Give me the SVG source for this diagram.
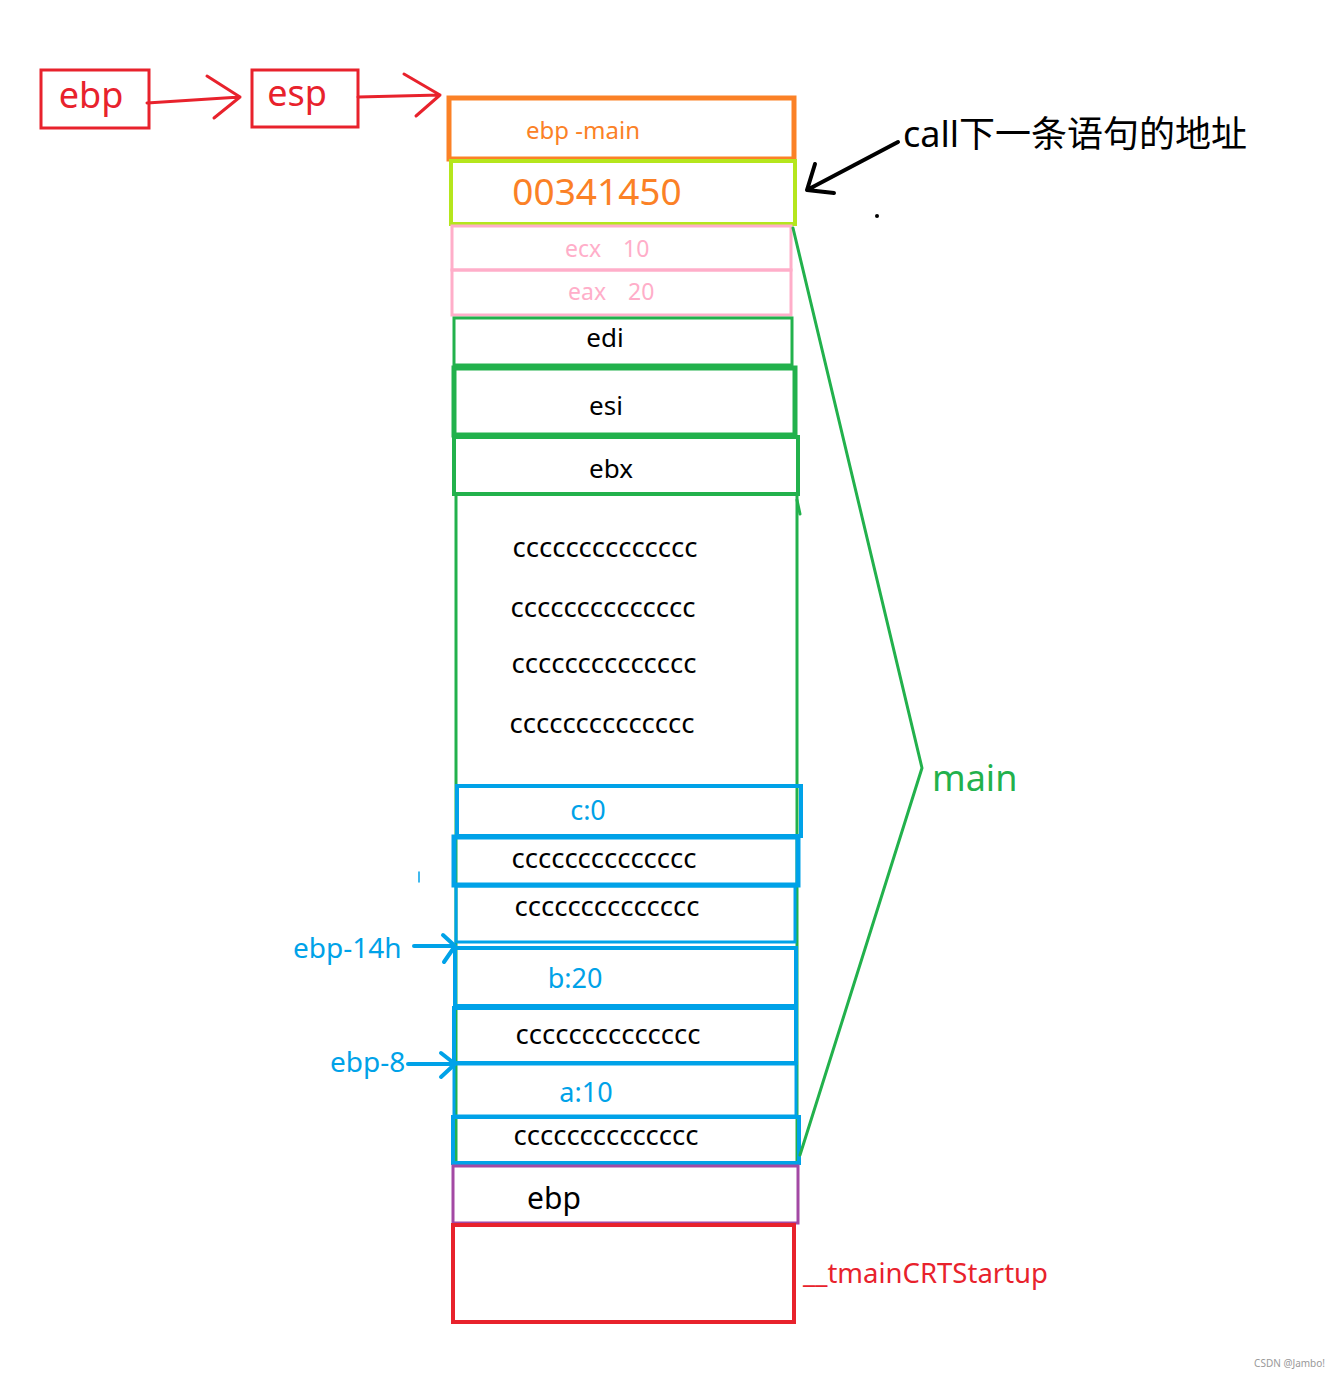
<svg xmlns="http://www.w3.org/2000/svg" width="1339" height="1377" viewBox="0 0 1339 1377">
<style>
text{font-family:"Noto Sans","Noto Sans CJK SC",sans-serif}
.box{fill:none}
.red{stroke:#e8222c}
.org{stroke:#fb8126}
.lime{stroke:#b5e61d}
.pink{stroke:#ffaec9}
.grn{stroke:#22b14c}
.blu{stroke:#00a2e8}
.pur{stroke:#a349a4}
.tb{fill:#000}
.tblu{fill:#00a2e8}
.cc{font-size:27.5px;fill:#000;text-anchor:middle}
.mid{text-anchor:middle}
</style>
<rect width="1339" height="1377" fill="#fff"/>
<g id="ebp-reg">
<rect class="box red" x="41" y="70" width="108" height="58" stroke-width="3"/>
<text x="91" y="108" font-size="36" fill="#e8222c" class="mid">ebp</text>
</g>
<g id="esp-reg">
<rect class="box red" x="252" y="70" width="106" height="57" stroke-width="3"/>
<text x="297" y="106" font-size="36" fill="#e8222c" class="mid">esp</text>
</g>
<g id="slot-ebp-main">
<rect class="box org" x="449" y="98" width="345" height="61" stroke-width="5"/>
<text x="583" y="139" font-size="24" fill="#fb8126" class="mid">ebp -main</text>
</g>
<g id="slot-ret">
<rect class="box lime" x="451" y="161" width="344" height="63" stroke-width="4"/>
<text x="597" y="205" font-size="37" fill="#fb8126" class="mid">00341450</text>
</g>
<g id="slot-ecx">
<rect class="box pink" x="452" y="226" width="339" height="44" stroke-width="3"/>
<text x="565" y="257" font-size="23" fill="#ffaec9">ecx</text>
<text x="623" y="257" font-size="23" fill="#ffaec9">10</text>
</g>
<g id="slot-eax">
<rect class="box pink" x="452" y="270" width="339" height="45" stroke-width="3"/>
<text x="568" y="300" font-size="23" fill="#ffaec9">eax</text>
<text x="628" y="300" font-size="23" fill="#ffaec9">20</text>
</g>
<g id="slot-edi">
<rect class="box grn" x="454" y="318" width="338" height="47" stroke-width="3"/>
<text x="605" y="347" font-size="26" class="tb mid">edi</text>
</g>
<g id="slot-esi">
<rect class="box grn" x="454" y="368" width="341" height="67" stroke-width="5"/>
<text x="606" y="415" font-size="26" class="tb mid">esi</text>
</g>
<g id="slot-ebx">
<rect class="box grn" x="454" y="437" width="344" height="57" stroke-width="4"/>
<text x="611" y="478" font-size="26" class="tb mid">ebx</text>
</g>
<g id="main-frame">
<rect class="box grn" x="456" y="494" width="341" height="671" stroke-width="3"/>
<text x="605" y="557" class="cc">cccccccccccccc</text>
<text x="603" y="617" class="cc">cccccccccccccc</text>
<text x="604" y="673" class="cc">cccccccccccccc</text>
<text x="602" y="733" class="cc">cccccccccccccc</text>
</g>
<g id="slot-c">
<rect class="box blu" x="457" y="786" width="344" height="50" stroke-width="4"/>
<text x="588" y="820" font-size="27" class="tblu mid">c:0</text>
</g>
<g id="slot-cc1">
<rect class="box blu" x="454" y="837" width="344" height="48" stroke-width="5"/>
<text x="604" y="868" class="cc">cccccccccccccc</text>
</g>
<g id="slot-cc2">
<rect class="box blu" x="456" y="886" width="339" height="56" stroke-width="3"/>
<text x="607" y="916" class="cc">cccccccccccccc</text>
</g>
<g id="slot-b">
<rect class="box blu" x="455" y="948" width="341" height="58" stroke-width="4"/>
<text x="575" y="988" font-size="27" class="tblu mid">b:20</text>
</g>
<g id="slot-cc3">
<rect class="box blu" x="454" y="1008" width="342" height="55" stroke-width="4"/>
<text x="608" y="1044" class="cc">cccccccccccccc</text>
</g>
<g id="slot-a">
<rect class="box blu" x="454" y="1064" width="342" height="52" stroke-width="3"/>
<text x="586" y="1102" font-size="27" class="tblu mid">a:10</text>
</g>
<g id="slot-cc4">
<rect class="box blu" x="453" y="1117" width="346" height="46" stroke-width="4"/>
<text x="606" y="1145" class="cc">cccccccccccccc</text>
</g>
<g id="slot-ebp-old">
<rect class="box pur" x="453" y="1166" width="345" height="57" stroke-width="3"/>
<text x="554" y="1209" font-size="30" class="tb mid">ebp</text>
</g>
<g id="frame-crt">
<rect class="box red" x="453" y="1225" width="341" height="97" stroke-width="4"/>
<text x="803" y="1283" font-size="27.5" fill="#e8222c">__tmainCRTStartup</text>
</g>
<g id="label-call">
<text x="903" y="147" font-size="36" class="tb">call下一条语句的地址</text>
</g>
<g id="label-main">
<text x="932" y="791" font-size="36" fill="#22b14c">main</text>
</g>
<g id="label-ebp14h">
<text x="293" y="958" font-size="28" class="tblu">ebp-14h</text>
</g>
<g id="label-ebp8">
<text x="330" y="1072" font-size="28" class="tblu">ebp-8</text>
</g>
<g id="connectors" fill="none" stroke-linecap="round" stroke-linejoin="round">
<path d="M147 103 L240 97 M207 76 L240 97 L214 118" stroke="#e8222c" stroke-width="3"/>
<path d="M358 97 L440 95 M404 74 L440 95 L416 116" stroke="#e8222c" stroke-width="3"/>
<path d="M898 142 L807 190 M815 164 L807 190 L834 193" stroke="#000" stroke-width="4"/>
<path d="M793 228 L922 768 L800 1155" stroke="#22b14c" stroke-width="3"/>
<path d="M797 500 L800 514" stroke="#22b14c" stroke-width="3"/>
<path d="M414 946 L455 946 M443 935 L455 946 L444 962" stroke="#00a2e8" stroke-width="4"/>
<path d="M408 1064 L455 1064 M441 1053 L455 1064 L441 1077" stroke="#00a2e8" stroke-width="4"/>
<path d="M419 872 L419 882" stroke="#00a2e8" stroke-width="1.5"/>
<circle cx="877" cy="216" r="2" fill="#000" stroke="none"/>
</g>
<text x="1325" y="1367" font-size="10" fill="#999" text-anchor="end">CSDN @Jambo!</text>
</svg>
